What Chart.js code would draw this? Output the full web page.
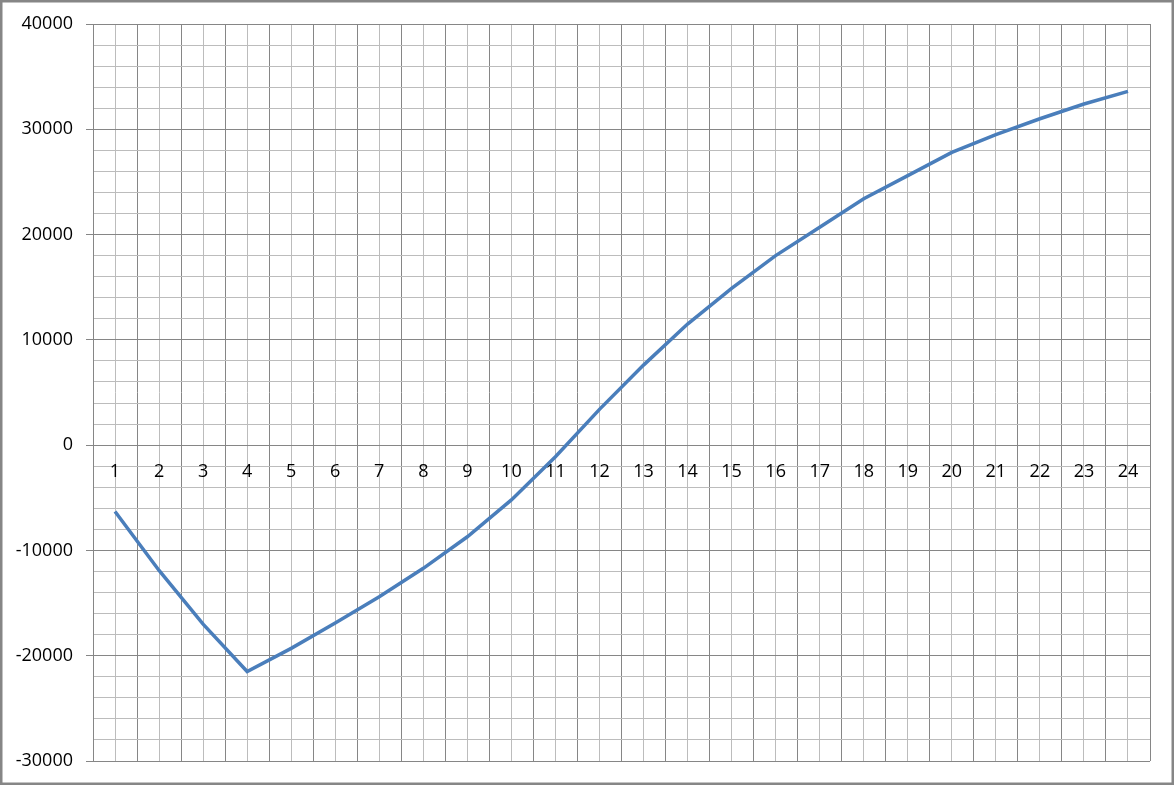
<!DOCTYPE html>
<html>
<head>
<meta charset="utf-8">
<script src="https://cdn.jsdelivr.net/npm/chart.js@4/dist/chart.umd.min.js"></script>
<style>
  html, body { margin: 0; padding: 0; background: #fff; }
  #wrap { position: relative; width: 1174px; height: 785px; }
</style>
</head>
<body>
<div id="wrap"><canvas id="chart" width="1174" height="785"></canvas></div>
<script>
// categories along the horizontal axis
const categories = [1, 2, 3, 4, 5, 6, 7, 8, 9, 10, 11, 12,
                    13, 14, 15, 16, 17, 18, 19, 20, 21, 22, 23, 24];

// series values
const values = [-6300, -11900, -17000, -21500, -19300, -16900, -14400, -11700,
                -8700, -5200, -1100, 3400, 7600, 11500, 14900, 18000,
                20700, 23400, 25600, 27800, 29500, 31000, 32400, 33600];

// y axis labels (major lines), minor lines every 2000
const yTickLabels = [-30000, -20000, -10000, 0, 10000, 20000, 30000, 40000];

const MAJOR = '#868686';
const MINOR = '#bcbcbc';

/**
 * Frame round the whole picture, like the chart area border in the original
 */
const framePlugin = {
  id: 'frame',
  beforeDraw(chart) {
    const { ctx, width, height } = chart;
    ctx.save();
    ctx.fillStyle = '#fff';
    ctx.fillRect(0, 0, width, height);
    ctx.restore();
  },
  afterDraw(chart) {
    const { ctx, width, height } = chart;
    ctx.save();
    ctx.strokeStyle = MAJOR;
    ctx.lineWidth = 3;
    ctx.strokeRect(1, 1, width - 2, height - 2);
    ctx.restore();
  }
};

const ctx = document.getElementById('chart').getContext('2d');

new Chart(ctx, {
  type: 'line',
  data: {
    datasets: [{
      data: categories.map((c, i) => ({ x: c, y: values[i] })),
      borderColor: '#4a7ebb',
      borderWidth: 3.5,
      pointRadius: 0,
      tension: 0,
      fill: false
    }]
  },
  options: {
    responsive: false,
    animation: false,
    layout: { padding: { left: 0, top: 24, right: 24, bottom: 24 } },
    plugins: {
      legend: { display: false },
      tooltip: { enabled: false }
    },
    scales: {
      x: {
        type: 'linear',
        position: { y: 0 },
        min: 0.5,
        max: 24.5,
        grid: {
          color: c => Number.isInteger(c.tick.value) ? MINOR : MAJOR,
          drawTicks: false
        },
        border: { color: MAJOR },
        ticks: {
          stepSize: 0.5,
          autoSkip: false,
          maxRotation: 0,
          padding: 16,
          color: '#000',
          font: { family: 'Open Sans', size: 18 },
          callback: v => categories.includes(v) ? String(v) : ''
        }
      },
      y: {
        min: yTickLabels[0],
        max: yTickLabels[yTickLabels.length - 1],
        afterFit: scale => { scale.width = 93; },
        grid: {
          color: c => c.tick.value % 10000 === 0 ? MAJOR : MINOR,
          tickColor: c => c.tick.value % 10000 === 0 ? MAJOR : 'rgba(0,0,0,0)',
          tickLength: 7
        },
        border: { color: MAJOR },
        ticks: {
          stepSize: 2000,
          autoSkip: false,
          padding: 13,
          color: '#000',
          font: { family: 'Open Sans', size: 18 },
          callback: v => yTickLabels.includes(v) ? String(v) : ''
        }
      }
    }
  },
  plugins: [framePlugin]
});
</script>
</body>
</html>
